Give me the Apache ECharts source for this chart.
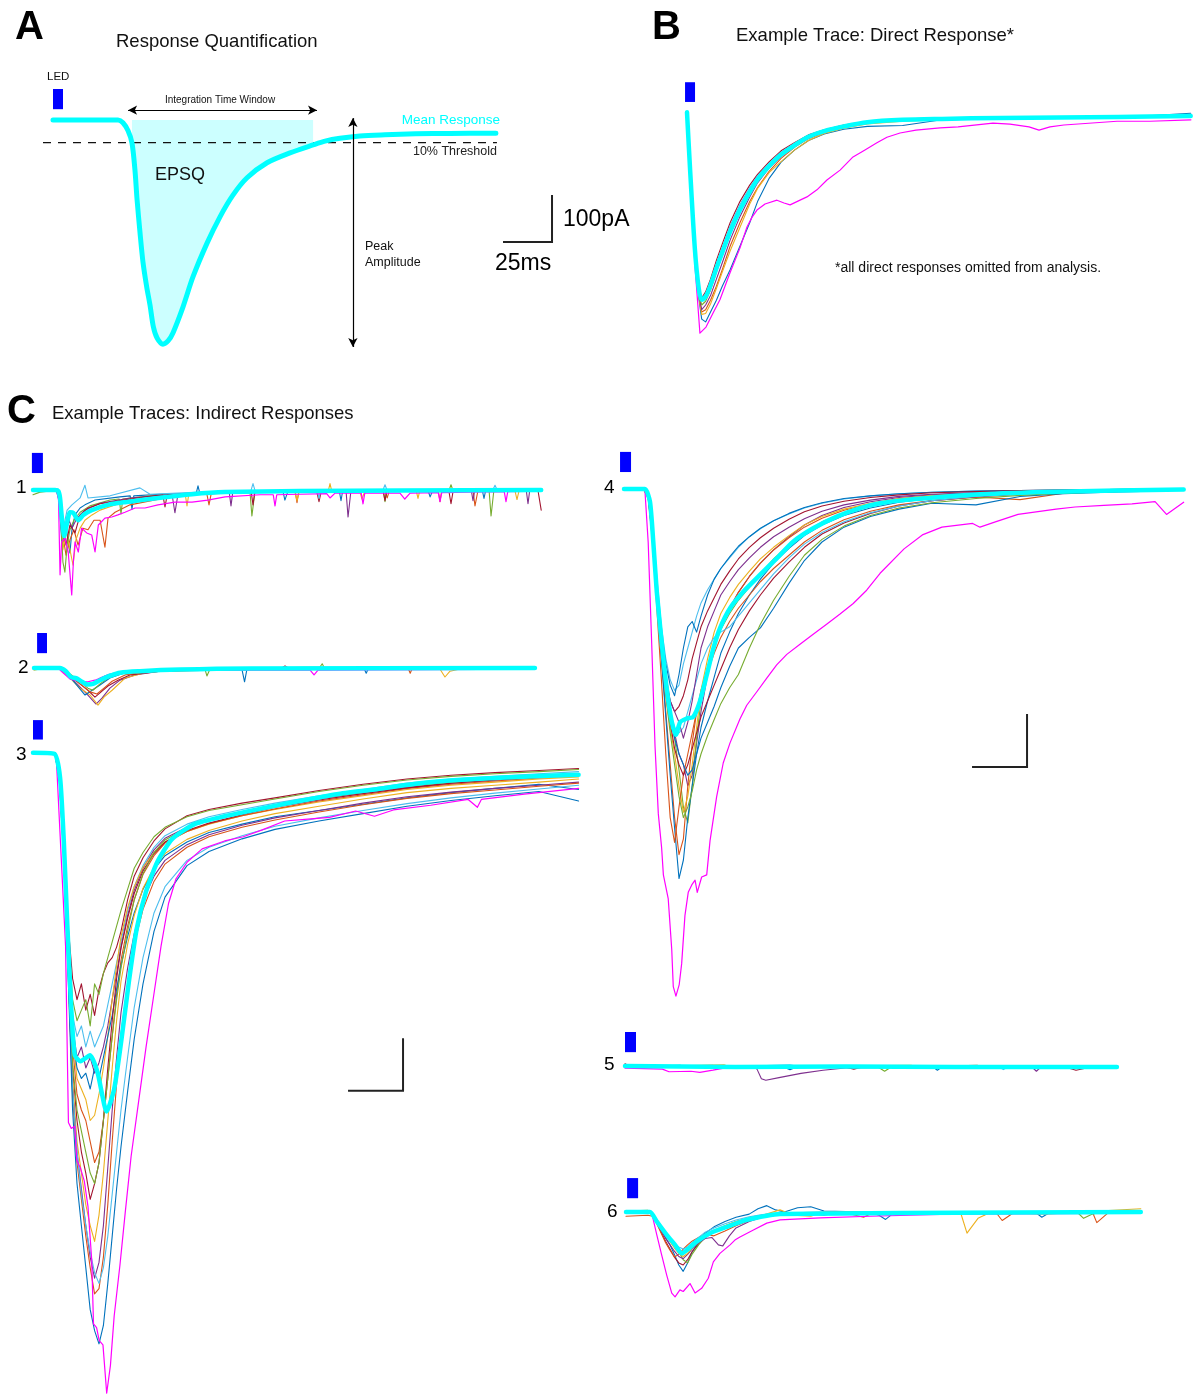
<!DOCTYPE html>
<html><head><meta charset="utf-8">
<script src="https://cdn.jsdelivr.net/npm/echarts/dist/echarts.min.js"></script>
<style>html,body{margin:0;padding:0;background:#fff}#c{width:1193px;height:1399px}</style>
</head><body><div id="c"></div>
<script>
// ===================== DATA (time in ms, current in pA) =====================
const C_BLUE='#0072BD',C_ORANGE='#D95319',C_YELLOW='#EDB120',C_PURPLE='#7E2F8E',C_GREEN='#77AC30',C_LBLUE='#4DBEEE',C_RED='#A2142F',C_MAG='#FF00FF',C_CYAN='#00FFFF';

// ---- Panel A: schematic mean response ----
const aTime = [0,33.2,35.7,38.3,40.3,41.8,42.9,44.4,45.9,47.8,49.5,51.2,53.1,56.1,58.7,61.2,66.3,71.4,78.6,85.2,91.8,99,109.2,120.9,132.7,138.8,146.4,156.6,169.4,185,202.6,226];
const aMean = [0,0,-6,-23,-49,-106,-170,-240,-302,-355,-394,-440,-464,-477,-470,-453,-398,-334,-262,-206,-160,-123,-91,-70,-53,-45,-39,-34,-31.5,-29.5,-28.5,-28];
const aThreshold = -48;            // 10% of peak
const aThresholdSpan = [-5.1, 226.5];
const aWindow = [40, 133];         // integration window (ms)
const aWindowArrow = [38.3, 134.7];
const aWindowArrowLevel = 21;
const aPeakArrowT = 153;
const aPeakArrowRange = [4, -483];

// ---- Panel B: direct response ----
const bTime = [0,1.5,4,6,7.5,9.5,12,15,18,22,27,32,36,42,48,55,62,70,80,92,110,130,160,190,220,257];
const bMean = [10,-106,-280,-365,-389,-382,-358,-322,-288,-244,-198,-160,-133,-104,-80,-60,-42,-30,-20,-11,-6,-4,-2,-1,0,2];
const bRed   = [10,-100,-275,-360,-385,-372,-345,-305,-270,-225,-180,-145,-122,-95,-72,-54,-38,-27,-17,-9,-4,-2,-1,0,1,2];
const bBlue  = [10,-110,-290,-385,-430,-436,-415,-390,-360,-325,-275,-225,-180,-130,-96,-70,-50,-36,-26,-20,-18,-6,-4,-3,-1,8];
const bOrange= [10,-108,-285,-380,-415,-410,-390,-360,-325,-275,-225,-180,-150,-115,-88,-64,-46,-33,-22,-13,-7,-4,-2,-1,0,1];
const bYellow= [10,-108,-288,-382,-420,-418,-398,-365,-330,-285,-235,-185,-152,-118,-95,-70,-50,-35,-24,-15,-9,-6,-3,-1,0,1];
const bPurple= [10,-106,-284,-378,-410,-400,-380,-345,-310,-262,-212,-170,-140,-108,-84,-62,-44,-31,-21,-12,-6,-3,-2,-1,0,2];
const bGreen = [10,-104,-280,-372,-400,-392,-368,-330,-295,-250,-202,-163,-136,-105,-80,-59,-41,-29,-19,-10,-5,-2,0,1,1,2];
const bLBlue = [10,-102,-276,-362,-386,-378,-350,-312,-278,-232,-186,-150,-125,-98,-75,-56,-40,-28,-18,-10,-5,-2,-1,0,0,2];
const bMagenta = [[0,10.6],[1.5,-123],[4.1,-319],[6.6,-460],[9.7,-447],[13.3,-417],[16.8,-389],[21.9,-332],[27,-279],[30.6,-234],[33.2,-213],[35.7,-198],[39.8,-185],[45.9,-177],[49.5,-183],[52.6,-187],[56.6,-179],[61.2,-170],[66.3,-155],[71.4,-134],[78.1,-113],[84.7,-85],[90.8,-70],[96.9,-55],[102,-43],[108.7,-34],[116.8,-28],[129.1,-23],[138.3,-21],[156.1,-13],[164.8,-15],[174.5,-21],[179.6,-28],[185.2,-21],[192.3,-17],[219.4,-9],[236.2,-9],[257.1,-6]];

// ---- Panel C1 ----
const c1Mean = [[0,0],[10,0],[11.5,-2],[12.3,-15],[13,-47],[14.2,-87],[15.3,-66],[16.8,-42],[18.3,-43],[20.6,-57],[22.9,-47],[26.7,-38],[34,-28],[41.8,-23],[56.8,-15],[72.3,-8],[87.3,-4],[121.4,-2],[166.8,-1],[231,0]];
const c1Blue = [[0,2],[10.5,0],[11.8,-19],[13.2,-104],[14.1,-85],[15,-66],[15.9,-94],[16.8,-119],[17.7,-75],[19.1,-47],[21.4,-34],[23.6,-28],[28.2,-19],[39.5,-13],[44.2,-11],[45,-36],[45.8,-11],[57.7,-8],[74.2,-6],[75,8],[75.8,-6],[85,-4],[113.6,-2],[114.5,-19],[115.9,-2],[139.2,-1],[140,-20],[140.8,-1],[179.5,0],[180.5,-13],[181.8,0],[204.2,0],[205,-16],[205.8,0],[231,0]];
const c1Orange = [[0,0],[10.9,0],[12.3,-28],[13.2,-75],[15,-123],[16.8,-94],[18.6,-75],[20.5,-104],[22.7,-72],[25,-75],[27.7,-57],[30.5,-57],[32.7,-108],[34.1,-53],[37.3,-42],[44.1,-28],[62.3,-13],[79,-7],[80,-28],[81,-7],[89.5,-6],[119.2,-3],[120,-24],[120.8,-3],[160,-1],[161,-15],[162,-1],[184.2,0],[185,-22],[185.8,0],[200,0],[200.9,-30],[202.3,0],[231,0]];
const c1Yellow = [[0,-2],[11.4,-2],[12.7,-47],[13.6,-113],[15,-75],[16.4,-104],[18.2,-142],[19.5,-94],[21.4,-72],[23.6,-57],[26.8,-47],[30.5,-38],[39.5,-25],[57.7,-13],[69.2,-8],[70,-30],[70.8,-8],[98.6,-4],[119,-3],[120,-20],[121,-3],[134.2,-2],[135,12],[135.8,-2],[148.6,-2],[149.5,-17],[150.9,-2],[174.2,-1],[175,-16],[175.8,-1],[219,0],[220,-18],[221,0],[231,0]];
const c1Green = [[0,-9],[3.2,-4],[11.4,0],[12.7,-57],[13.6,-136],[14.5,-155],[15.5,-104],[16.8,-75],[18.6,-57],[21.4,-42],[25.9,-30],[35,-19],[39.2,-17],[40,-45],[40.8,-17],[53.2,-11],[75.9,-6],[98.6,-2],[99.5,-49],[100.9,-2],[159.2,-1],[160,-22],[160.8,-1],[189.2,0],[190,10],[190.8,0],[207.3,0],[208.2,-49],[209.5,0],[231,2]];
const c1Purple = [[0,0],[11.4,0],[12.7,-38],[14.5,-85],[16.4,-57],[17.7,-72],[20,-53],[23.6,-38],[30.5,-25],[44.1,-15],[63.2,-8],[64.5,-43],[65.9,-8],[89.2,-4],[90,-30],[90.8,-4],[142.3,-2],[143.2,-51],[144.5,-2],[199.2,0],[200,-20],[200.8,0],[224.2,0],[225,-26],[225.8,0],[231,0]];
const c1Red = [[0,0],[11.4,0],[13.2,-57],[15,-104],[16.8,-66],[19.1,-81],[21.4,-47],[25,-34],[30.5,-26],[44.1,-17],[59,-9],[60,-32],[61,-9],[66.8,-9],[99.2,-4],[100,-28],[100.8,-4],[103.2,-4],[129,-3],[130,-22],[131,-3],[159.2,-2],[160,-20],[160.8,-2],[189,-1],[190,-26],[191,-1],[229.5,0],[231,-38]];
const c1LBlue = [[0,2],[11.4,2],[12.7,-28],[14.1,-66],[15.5,-38],[17.7,-28],[21.4,-15],[23.6,9],[25,-15],[35,-11],[48.6,4],[53.2,-8],[75.9,-4],[99,-2],[100,12],[101,-2],[129.2,-1],[130,-16],[130.8,-1],[159,-1],[160,10],[161,-1],[209,0],[210,9],[211,0],[231,0]];
const c1Magenta = [[0,-2],[7.7,0],[10.9,-2],[11.6,-19],[12.3,-160],[13,-98],[14.5,-91],[16,-117],[17.6,-198],[18.4,-132],[19.1,-98],[20.6,-117],[22.1,-72],[24.4,-81],[26.7,-85],[28.2,-117],[29.7,-66],[32.7,-53],[35.8,-51],[38.6,-47],[41.8,-42],[46.4,-34],[50.9,-34],[56.8,-28],[64.5,-23],[72.3,-23],[79.5,-19],[87.3,-13],[103.2,-9],[109.2,-9],[110,-30],[110.8,-9],[121.4,-8],[133.5,-7],[135,-15],[137.3,-6],[149.2,-6],[150,-26],[150.8,-6],[166.8,-6],[169,-17],[171.4,-6],[184.2,-5],[185,-22],[185.8,-5],[198.6,-4],[214.2,-3],[215,-22],[215.8,-3],[231,-2]];

// ---- Panel C2 ----
const c2Mean = [[0,0],[11.8,0],[14.5,-6],[16.8,-17],[19.1,-19],[21.8,-26],[24.5,-31],[26.8,-30],[30,-23],[34.5,-15],[39.1,-9],[48.2,-6],[66.4,-3],[98.2,-1],[227.7,0]];
const c2Purple = [[0,0],[11.8,-2],[15.5,-13],[20,-32],[24.5,-51],[28.2,-68],[30.9,-57],[34.5,-38],[39.1,-23],[45.9,-13],[57.3,-6],[84.5,-2],[227.7,0]];
const c2Yellow = [[0,-4],[2.7,-2],[11.8,-2],[16.4,-19],[20.9,-38],[25.5,-51],[29.1,-70],[31.8,-55],[35.5,-42],[41.4,-19],[50.5,-9],[57.3,-6],[75.5,-4],[184.5,-2],[186.8,-17],[189.1,-6],[193.6,-2],[227.7,0]];
const c2Blue = [[0,0],[11.8,0],[14.5,-8],[18.6,-28],[23.2,-51],[26.4,-42],[30,-32],[34.5,-19],[41.4,-9],[57.3,-4],[94.5,-2],[95.7,-26],[96.8,-2],[150,-1],[151,-10],[152,-1],[227.7,0]];
const c2Red = [[0,0],[12.7,0],[16.4,-15],[20.9,-30],[24.5,-42],[27.7,-55],[30,-47],[33.6,-34],[38.2,-23],[43.6,-13],[57.3,-6],[111.8,-2],[114.1,4],[116.4,-2],[227.7,0]];
const c2Green = [[0,0],[12.7,0],[16.4,-11],[20.9,-26],[24.5,-38],[26.8,-42],[30,-30],[33.6,-19],[39.1,-11],[52.7,-4],[77.7,-2],[78.6,-15],[80,-2],[130,2],[131,8],[132,0],[227.7,0]];
const c2Orange = [[0,-2],[12.7,0],[16.4,-13],[20.9,-30],[25.5,-45],[28.6,-49],[31.8,-38],[35.5,-25],[41.4,-13],[52.7,-6],[75.5,-2],[170,0],[171,-10],[172,0],[227.7,0]];
const c2LBlue = [[0,0],[11.8,0],[15.5,-11],[20,-23],[23.6,-34],[26.4,-30],[30,-19],[34.5,-11],[43.6,-6],[66.4,-2],[203.2,2],[207.7,-2],[227.7,0]];
const c2Magenta = [[0,0],[10.9,0],[13.2,-9],[16.4,-21],[20.9,-25],[24.5,-26],[27.7,-23],[32.3,-15],[39.1,-8],[57.3,-4],[125.5,-4],[127.3,-13],[129.1,-4],[227.7,-2]];

// ---- Panel C3 ----
const c3Time = [0,10,12,14,16,18,20,22,24,26,28,30,32,34,36,38,40,43,46,50,55,60,70,80,95,110,130,150,170,190,210,230,248];
const c3Traces = [
  [0,0,-30,-150,-330,-430,-470,-440,-490,-460,-500,-450,-420,-400,-390,-370,-340,-280,-235,-200,-168,-145,-120,-108,-96,-86,-72,-60,-50,-43,-38,-34,-30],
  [0,-2,-35,-160,-340,-470,-510,-490,-470,-520,-440,-460,-420,-390,-360,-330,-300,-260,-220,-190,-160,-142,-122,-110,-99,-88,-74,-62,-52,-45,-40,-36,-32],
  [0,0,-40,-170,-360,-500,-540,-520,-560,-530,-560,-540,-520,-480,-440,-400,-360,-300,-255,-215,-180,-158,-136,-122,-108,-96,-82,-70,-58,-50,-45,-40,-36],
  [0,-2,-45,-175,-370,-520,-580,-560,-600,-580,-610,-590,-560,-520,-470,-420,-370,-310,-262,-220,-185,-163,-142,-128,-114,-102,-88,-76,-66,-58,-52,-46,-42],
  [0,0,-40,-165,-355,-540,-620,-640,-660,-700,-690,-650,-600,-540,-470,-405,-350,-295,-255,-218,-190,-170,-150,-136,-120,-108,-94,-82,-70,-62,-56,-50,-46],
  [0,-2,-45,-170,-360,-560,-650,-680,-700,-740,-780,-760,-700,-620,-540,-460,-395,-330,-280,-232,-196,-172,-150,-135,-120,-107,-92,-80,-68,-60,-54,-48,-44],
  [0,-2,-40,-170,-370,-540,-600,-620,-610,-640,-600,-620,-580,-540,-500,-450,-405,-350,-305,-260,-222,-196,-170,-152,-136,-122,-110,-98,-86,-76,-68,-60,-70],
  [0,0,-45,-180,-390,-600,-700,-760,-800,-850,-820,-780,-700,-600,-510,-430,-372,-315,-268,-225,-192,-170,-148,-134,-118,-104,-90,-78,-67,-58,-52,-46,-40],
  [0,-2,-50,-190,-400,-620,-740,-800,-860,-900,-930,-880,-800,-700,-600,-510,-435,-365,-310,-258,-218,-192,-165,-148,-130,-116,-102,-88,-76,-68,-62,-56,-50],
  [0,0,-50,-190,-410,-640,-760,-830,-900,-960,-1000,-970,-900,-790,-680,-580,-495,-410,-345,-282,-235,-205,-175,-156,-138,-124,-110,-96,-84,-75,-68,-62,-56],
  [0,-2,-55,-200,-420,-650,-780,-850,-920,-980,-1030,-1020,-960,-860,-740,-630,-535,-440,-365,-298,-245,-212,-180,-160,-142,-128,-113,-99,-87,-78,-71,-64,-58],
  [0,0,-50,-190,-410,-640,-760,-840,-900,-950,-990,-1010,-980,-920,-840,-760,-680,-580,-485,-390,-305,-255,-205,-180,-158,-140,-124,-110,-97,-86,-77,-69,-62],
  [0,-2,-55,-200,-430,-680,-820,-900,-980,-1060,-1100,-1125,-1090,-1010,-920,-830,-750,-645,-545,-440,-340,-275,-215,-188,-164,-146,-130,-116,-102,-91,-82,-74,-92],
  [0,0,-45,-180,-390,-590,-680,-720,-760,-800,-820,-780,-700,-620,-540,-470,-410,-340,-280,-230,-190,-166,-143,-128,-113,-100,-87,-75,-64,-56,-50,-45,-40]
];
const c3Colors = [C_RED,C_GREEN,C_LBLUE,C_PURPLE,C_YELLOW,C_ORANGE,C_BLUE,C_RED,C_YELLOW,C_PURPLE,C_ORANGE,C_LBLUE,C_BLUE,C_GREEN];
const c3Mean = [[0,0],[9.7,-2],[12.3,-47],[14,-168],[15.6,-328],[17.4,-487],[19,-576],[21.6,-587],[25.9,-576],[29.3,-608],[33.5,-683],[36.9,-640],[40.3,-543],[43.7,-432],[47.1,-336],[51.4,-264],[56.5,-208],[63.3,-164],[73.5,-136],[87.1,-121],[104.2,-106],[121.2,-92],[138.2,-79],[155.2,-70],[172.3,-60],[189.3,-53],[214.8,-47],[248,-42]];
const c3Magenta = [[0,0],[10.5,-2],[14.8,-368],[16.1,-704],[17.4,-715],[19,-711],[19.9,-776],[21.6,-791],[23.3,-815],[25,-864],[26.7,-966],[27.5,-1087],[28.9,-1094],[30.1,-1119],[31.8,-1127],[33.5,-1219],[35.2,-1166],[36.9,-1072],[39.5,-976],[42,-872],[44.6,-768],[48,-664],[51.4,-560],[54.8,-464],[58.2,-368],[61.6,-287],[65,-240],[70.1,-208],[76.9,-183],[87.1,-168],[95.6,-160],[104.2,-147],[114.4,-130],[126.3,-126],[134.8,-123],[146.7,-111],[155.2,-121],[163.8,-109],[180.8,-100],[197.8,-89],[202,-104],[203.8,-89],[223.3,-79],[248,-68]];

// ---- Panel C4 ----
const c4Time = [0,9,11,13,15,17,19,21,23,25,27,29,31,33,35,38,41,44,48,52,57,62,68,75,82,90,100,112,125,140,160,180,200,220,240,254];
const c4Traces = [
  [0,0,-10,-70,-170,-260,-320,-360,-380,-370,-330,-300,-270,-240,-215,-190,-170,-150,-130,-110,-90,-75,-60,-47,-36,-27,-19,-13,-9,-6,-4,-3,-2,-1,0,0],
  [0,0,-12,-80,-180,-270,-330,-370,-390,-350,-300,-260,-250,-270,-240,-200,-170,-150,-128,-108,-90,-74,-60,-46,-35,-26,-18,-13,-9,-6,-4,-3,-2,-1,0,0],
  [0,0,-15,-90,-200,-290,-360,-400,-420,-410,-390,-360,-320,-290,-260,-230,-205,-180,-155,-132,-110,-92,-74,-57,-43,-32,-23,-16,-11,-7,-5,-3,-2,-1,0,0],
  [0,0,-12,-85,-195,-290,-370,-420,-460,-500,-520,-560,-540,-480,-420,-350,-300,-260,-225,-195,-165,-140,-115,-90,-68,-50,-35,-24,-16,-11,-7,-5,-3,-2,-1,0],
  [0,-2,-15,-95,-210,-320,-420,-520,-620,-690,-660,-560,-480,-420,-380,-340,-300,-260,-225,-195,-165,-140,-115,-92,-72,-55,-40,-28,-19,-13,-9,-6,-4,-3,-2,-1],
  [0,0,-10,-80,-190,-280,-360,-420,-470,-530,-600,-630,-560,-470,-400,-340,-300,-265,-235,-210,-185,-160,-132,-105,-82,-62,-45,-32,-22,-15,-10,-7,-5,-3,-2,-1],
  [0,0,-12,-88,-200,-300,-390,-450,-500,-560,-610,-580,-520,-450,-380,-320,-270,-235,-205,-180,-155,-132,-110,-88,-68,-52,-38,-27,-18,-12,-8,-5,-3,-2,-1,0],
  [0,0,-15,-95,-210,-320,-430,-540,-640,-735,-700,-620,-560,-500,-450,-400,-355,-310,-270,-235,-200,-170,-140,-112,-88,-68,-50,-36,-25,-18,-12,-8,-5,-3,-2,-1],
  [0,-2,-18,-100,-230,-360,-500,-620,-667,-600,-540,-500,-460,-420,-385,-345,-310,-280,-250,-225,-200,-175,-150,-125,-100,-78,-58,-42,-30,-22,-15,-20,-8,-5,-3,-2],
  [0,0,-12,-85,-195,-295,-380,-440,-490,-520,-540,-520,-490,-460,-430,-400,-370,-340,-300,-265,-230,-200,-168,-138,-110,-85,-64,-46,-32,-22,-15,-10,-6,-4,-2,-1],
  [0,0,-10,-80,-185,-280,-360,-420,-450,-460,-450,-420,-390,-360,-330,-300,-280,-270,-260,-240,-215,-190,-160,-130,-104,-82,-62,-45,-32,-22,-14,-9,-6,-4,-2,-1],
  [0,0,-12,-85,-195,-290,-370,-430,-470,-500,-520,-540,-530,-500,-470,-440,-410,-375,-335,-300,-280,-262,-225,-178,-135,-100,-72,-52,-38,-27,-30,-14,-9,-6,-4,-2],
  [0,0,-12,-85,-200,-300,-390,-460,-520,-580,-620,-600,-570,-530,-500,-465,-435,-405,-375,-350,-300,-255,-210,-165,-125,-95,-70,-50,-36,-26,-18,-12,-8,-5,-3,-2],
  [0,0,-12,-80,-190,-280,-350,-400,-420,-440,-470,-440,-400,-350,-300,-260,-230,-200,-175,-152,-130,-110,-90,-72,-56,-42,-30,-21,-14,-10,-7,-5,-3,-2,-1,0]
];
const c4Colors = [C_LBLUE,C_BLUE,C_RED,C_PURPLE,C_ORANGE,C_GREEN,C_YELLOW,C_BLUE,C_ORANGE,C_RED,C_LBLUE,C_BLUE,C_GREEN,C_PURPLE];
const c4Mean = [[0,0],[9.5,0],[11.8,-24],[13.3,-99],[14.9,-194],[17.1,-288],[19.4,-376],[21.7,-439],[23.6,-464],[25.5,-440],[28.5,-433],[31.5,-430],[34.5,-401],[37.6,-351],[40.6,-301],[43.6,-263],[48.2,-225],[54.2,-194],[61.8,-162],[69.4,-131],[77,-99],[86,-74],[96.7,-52],[107.3,-36],[116.4,-27],[127.3,-21],[161.8,-10],[196.4,-5],[254.4,-1]];
const c4Magenta = [[0,0],[9.5,-2],[11,-101],[12.6,-293],[14.1,-485],[15.6,-613],[17.1,-677],[17.9,-728],[20.1,-773],[21.7,-869],[22.4,-939],[23.6,-957],[25.1,-935],[26.2,-896],[27.7,-805],[29.2,-761],[30.8,-747],[32.3,-738],[33.3,-761],[35.3,-732],[37.6,-728],[39.1,-664],[42.1,-581],[45.1,-517],[48.2,-479],[52.7,-434],[55.8,-408],[60.3,-383],[64.9,-357],[69.4,-332],[74,-312],[80,-293],[86,-274],[92.1,-255],[98.2,-236],[104.2,-216],[110.3,-191],[116.4,-159],[127.3,-113],[135.9,-86],[144.5,-72],[158.5,-65],[161.8,-72],[168.8,-62],[179.1,-48],[196.4,-38],[205,-34],[218.1,-31],[230.9,-28],[241.4,-24],[246.6,-48],[254.4,-25]];

// ---- Panel C5 ----
const c5Mean = [[0,2],[50,0],[100,1],[150,0],[223.6,0]];
const c5Purple = [[0,0],[58,0],[60,-4],[62,-22],[64,-25],[70,-20],[80,-12],[90,-6],[100,-2],[140,0],[185,0],[187,-8],[189,0],[223.6,0]];
const c5Magenta = [[0,-2],[17,-4],[20,-9],[30,-8],[34,-10],[40,-6],[45,-2],[60,-2],[100,0],[223.6,-2]];
const c5Orange = [[0,4],[20,0],[120,2],[130,0],[160,3],[165,0],[223.6,0]];
const c5Green = [[0,0],[60,2],[115,0],[118,-8],[121,0],[150,2],[223.6,0]];
const c5Red = [[0,6],[3,0],[100,0],[104,-4],[108,0],[200,0],[205,-6],[212,0],[223.6,0]];
const c5Blue = [[0,0],[25,3],[30,0],[72,0],[75,-5],[78,0],[140,0],[142,-6],[144,0],[223.6,1]];
const c5LBlue = [[0,0],[40,3],[43,0],[75,4],[80,0],[170,0],[172,-5],[174,0],[223.6,0]];
const c5Yellow = [[0,0],[45,4],[48,0],[130,3],[134,0],[223.6,0]];

// ---- Panel C6 ----
const c6Mean = [[0,0],[10.9,0],[14,-18],[18.5,-43],[22.3,-62],[25.3,-78],[27.6,-72],[32.1,-56],[38.2,-40],[45.8,-28],[54.9,-15],[64,-7],[70,-4],[124.5,-2],[234,0]];
const c6Blue = [[0,0],[10,0],[12,-4],[14,-16],[16,-32],[18,-48],[20,-62],[22,-80],[24,-100],[26,-112],[28,-96],[30,-76],[33,-56],[36,-40],[40,-28],[45,-18],[50,-10],[56,-4],[60,6],[64,12],[68,4],[72,0],[78,8],[84,10],[90,2],[110,0],[115,-6],[118,-14],[121,-4],[125,0],[186,0],[189,-10],[193,0],[234,0]];
const c6Red = [[0,0],[10,0],[12,-5],[14,-20],[16,-38],[18,-55],[20,-70],[22,-85],[24,-96],[26,-100],[28,-90],[30,-75],[33,-60],[36,-48],[40,-38],[45,-30],[50,-22],[56,-14],[62,-8],[70,-4],[80,-2],[100,0],[160,0],[163,-5],[166,0],[234,2]];
const c6Green = [[0,2],[10,3],[12,-3],[14,-14],[16,-26],[18,-38],[20,-50],[22,-62],[24,-75],[26,-90],[28,-96],[30,-80],[33,-62],[36,-48],[40,-36],[45,-26],[50,-18],[56,-11],[62,-6],[70,-3],[80,-1],[100,0],[205,0],[208,-12],[212,-4],[216,0],[234,2]];
const c6Orange = [[0,-8],[10,-6],[12,-8],[14,-22],[16,-40],[18,-58],[20,-72],[22,-85],[24,-80],[26,-70],[28,-62],[30,-55],[33,-48],[36,-42],[40,-45],[45,-36],[50,-26],[56,-16],[62,-10],[70,-5],[80,-3],[100,-2],[108,-10],[112,-2],[168,0],[171,-16],[176,-2],[212,0],[214,-20],[219,-2],[234,0]];
const c6Purple = [[0,0],[10,0],[12,-5],[14,-20],[16,-35],[18,-50],[20,-62],[22,-74],[24,-84],[26,-88],[28,-80],[30,-70],[33,-58],[36,-50],[39,-48],[42,-62],[44,-64],[47,-45],[50,-30],[56,-18],[62,-10],[70,-5],[80,-2],[90,-6],[95,-2],[150,0],[234,0]];
const c6Yellow = [[0,0],[10,0],[12,-4],[14,-16],[16,-30],[18,-44],[20,-56],[22,-68],[24,-78],[26,-84],[28,-78],[30,-68],[33,-56],[36,-44],[40,-34],[45,-26],[50,-18],[56,-12],[62,-6],[70,4],[76,-6],[84,-8],[90,0],[152,0],[155,-40],[160,-12],[166,0],[190,-4],[234,6]];
const c6LBlue = [[0,0],[10,0],[12,-5],[14,-18],[16,-30],[18,-42],[20,-52],[22,-60],[24,-66],[26,-70],[28,-66],[30,-58],[33,-48],[36,-38],[40,-30],[45,-22],[50,-15],[56,-9],[62,-5],[70,-2],[90,0],[234,0]];
const c6Magenta = [[0,0],[11.7,-2],[14,-43],[16.2,-81],[18.5,-119],[20.8,-153],[22.3,-160],[24.5,-147],[26,-150],[29.1,-135],[31.4,-153],[34.4,-144],[37.4,-125],[39.7,-94],[42.7,-78],[47.3,-62],[49.5,-53],[51.8,-47],[57.9,-34],[64,-21],[70,-15],[88.2,-11],[110.9,-8],[147.3,-4],[234,-2]];

// LED pulse times (ms) per panel
const ledTimes = {A:[0,5.1],B:[-1,4.1],C1:[-0.5,4.5],C2:[1.4,5.9],C3:[0,4.5],C4:[-1.8,3.2],C5:[0,5],C6:[0.5,5.5]};
// scale bar
const scaleMs = 25, scalePa = 100;

// ===================== LAYOUT =====================
const P = {
  A: {x0:53, base:120, sx:1.96, sy:0.47, xmin:-10, xmax:270, ymin:-500, ymax:80},
  B: {x0:687, base:117, sx:1.96, sy:0.47, xmin:-5, xmax:258, ymin:-480, ymax:80},
  C1:{x0:33, base:490, sx:2.2, sy:0.53, xmin:-5, xmax:235, ymin:-220, ymax:75},
  C2:{x0:34, base:668, sx:2.2, sy:0.53, xmin:-5, xmax:232, ymin:-90, ymax:72},
  C3:{x0:33, base:753, sx:2.2, sy:0.53, xmin:-5, xmax:250, ymin:-1230, ymax:70},
  C4:{x0:624, base:489, sx:2.2, sy:0.53, xmin:-5, xmax:256, ymin:-970, ymax:75},
  C5:{x0:625, base:1067, sx:2.2, sy:0.53, xmin:-5, xmax:226, ymin:-40, ymax:72},
  C6:{x0:626, base:1212, sx:2.2, sy:0.53, xmin:-5, xmax:236, ymin:-180, ymax:70}
};
const ledLevels = {A:[23,66],B:[32,74],C1:[32,70],C2:[28,66],C3:[25,62],C4:[32,70],C5:[28,66],C6:[26,64]};
const scaleCorner = {A:[254.6,-259.6], C3:[168.2,-643.5], C4:[183.2,-524.6]};
const FONT = '"Liberation Sans", Arial, Helvetica, sans-serif';

// ===================== BUILD =====================
const order = ['A','B','C1','C2','C3','C4','C5','C6'];
const option = {animation:false, backgroundColor:'#ffffff', grid:[], xAxis:[], yAxis:[], series:[], graphic:{elements:[]}};
order.forEach((k,i)=>{
  const L = P[k];
  option.grid.push({left:L.x0 + L.xmin*L.sx, top:L.base - L.ymax*L.sy, width:(L.xmax-L.xmin)*L.sx, height:(L.ymax-L.ymin)*L.sy, containLabel:false, show:false});
  option.xAxis.push({type:'value', gridIndex:i, min:L.xmin, max:L.xmax, show:false});
  option.yAxis.push({type:'value', gridIndex:i, min:L.ymin, max:L.ymax, show:false});
});
const gi = k => order.indexOf(k);
const zip = (T,V) => T.map((t,i)=>[t,V[i]]);
function ln(k, data, color, width, extra){
  return Object.assign({type:'line', xAxisIndex:gi(k), yAxisIndex:gi(k), data, symbol:'none', showSymbol:false, clip:false, silent:true, animation:false,
    lineStyle:{color, width, cap:'round', join:'round'}, itemStyle:{color}, emphasis:{disabled:true}}, extra||{});
}
function led(k){
  return {silent:true, animation:false, label:{show:false}, itemStyle:{color:'#0000FF', opacity:1},
    data:[[{coord:[ledTimes[k][0], ledLevels[k][0]]},{coord:[ledTimes[k][1], ledLevels[k][1]]}]]};
}
function scaleBar(k){
  const c = scaleCorner[k];
  option.series.push(ln(k, [[c[0]-scaleMs, c[1]],[c[0], c[1]],[c[0], c[1]+scalePa]], '#222222', 2, {lineStyle:{color:'#222222', width:2, cap:'butt', join:'miter'}}));
}
function panel(k, traces, magenta, mean, smooth){
  traces.forEach(tr => option.series.push(ln(k, tr[0], tr[1], 1.1)));
  option.series.push(ln(k, magenta, C_MAG, 1.2));
  option.series.push(ln(k, mean, C_CYAN, 4.5, {smooth: smooth||0, markArea: led(k)}));
}

// Panel A
const aCurve = zip(aTime, aMean);
option.series.push(ln('A', aCurve.filter(p => p[0] >= aWindow[0] && p[0] <= aWindow[1]), C_CYAN, 0,
  {smooth:0.3, lineStyle:{width:0, opacity:0}, areaStyle:{color:'#CCFFFF', opacity:1}}));
option.series.push(ln('A', [[aThresholdSpan[0], aThreshold],[aThresholdSpan[1], aThreshold]], '#000', 1.2,
  {lineStyle:{color:'#111', width:1.2, type:[8,7], cap:'butt'},
   markLine:{silent:true, animation:false, symbol:['arrow','arrow'], symbolSize:[7,9], label:{show:false}, emphasis:{disabled:true},
     lineStyle:{color:'#000', width:1.2, type:'solid'},
     data:[[{coord:[aWindowArrow[0], aWindowArrowLevel]},{coord:[aWindowArrow[1], aWindowArrowLevel]}],
           [{coord:[aPeakArrowT, aPeakArrowRange[0]]},{coord:[aPeakArrowT, aPeakArrowRange[1]]}]]}}));
option.series.push(ln('A', aCurve, C_CYAN, 5, {smooth:0.3, markArea: led('A')}));
scaleBar('A');

// Panel B
panel('B', [[zip(bTime,bRed),C_RED],[zip(bTime,bBlue),C_BLUE],[zip(bTime,bOrange),C_ORANGE],[zip(bTime,bYellow),C_YELLOW],
  [zip(bTime,bPurple),C_PURPLE],[zip(bTime,bGreen),C_GREEN],[zip(bTime,bLBlue),C_LBLUE]], bMagenta, zip(bTime,bMean), 0.3);

// Panel C1..C6
panel('C1', [[c1Blue,C_BLUE],[c1Orange,C_ORANGE],[c1Yellow,C_YELLOW],[c1Green,C_GREEN],[c1Purple,C_PURPLE],[c1Red,C_RED],[c1LBlue,C_LBLUE]], c1Magenta, c1Mean, 0.2);
panel('C2', [[c2Purple,C_PURPLE],[c2Yellow,C_YELLOW],[c2Blue,C_BLUE],[c2Red,C_RED],[c2Green,C_GREEN],[c2Orange,C_ORANGE],[c2LBlue,C_LBLUE]], c2Magenta, c2Mean, 0.3);
panel('C3', c3Traces.map((v,i)=>[zip(c3Time,v), c3Colors[i]]), c3Magenta, c3Mean, 0.2);
scaleBar('C3');
panel('C4', c4Traces.map((v,i)=>[zip(c4Time,v), c4Colors[i]]), c4Magenta, c4Mean, 0.2);
scaleBar('C4');
panel('C5', [[c5Orange,C_ORANGE],[c5Green,C_GREEN],[c5Red,C_RED],[c5Blue,C_BLUE],[c5LBlue,C_LBLUE],[c5Yellow,C_YELLOW],[c5Purple,C_PURPLE]], c5Magenta, c5Mean, 0);
panel('C6', [[c6Blue,C_BLUE],[c6Red,C_RED],[c6Green,C_GREEN],[c6Orange,C_ORANGE],[c6Purple,C_PURPLE],[c6Yellow,C_YELLOW],[c6LBlue,C_LBLUE]], c6Magenta, c6Mean, 0.2);

// Texts
const texts = [
  ['A',15,28,40,'bold','left','#000'],
  ['Response Quantification',116,42,18.5,'normal','left','#111'],
  ['LED',47,77,11.5,'normal','left','#111'],
  ['Integration Time Window',220,100,10,'normal','center','#111'],
  ['Mean Response',500,120,13.5,'normal','right',C_CYAN],
  ['10% Threshold',497,152,12.5,'normal','right','#222'],
  ['EPSQ',155,175,18,'normal','left','#111'],
  ['Peak',365,247,12.5,'normal','left','#111'],
  ['Amplitude',365,263,12.5,'normal','left','#111'],
  ['100pA',563,220,23,'normal','left','#000'],
  ['25ms',495,264,23,'normal','left','#000'],
  ['B',652,28,40,'bold','left','#000'],
  ['Example Trace: Direct Response*',736,36,18.5,'normal','left','#111'],
  ['*all direct responses omitted from analysis.',835,268,14,'normal','left','#111'],
  ['C',7,412,40,'bold','left','#000'],
  ['Example Traces: Indirect Responses',52,414,18.5,'normal','left','#111'],
  ['1',16,488,19,'normal','left','#000'],
  ['2',18,668,19,'normal','left','#000'],
  ['3',16,755,19,'normal','left','#000'],
  ['4',604,488,19,'normal','left','#000'],
  ['5',604,1065,19,'normal','left','#000'],
  ['6',607,1212,19,'normal','left','#000']
];
texts.forEach(t=>{
  option.graphic.elements.push({type:'text', x:t[1], y:t[2], silent:true, z:100,
    style:{text:t[0], font:t[4]+' '+t[3]+'px '+FONT, fill:t[6], textAlign:t[5], textVerticalAlign:'middle', align:t[5], verticalAlign:'middle'}});
});

const chart = echarts.init(document.getElementById('c'), null, {renderer:'canvas'});
chart.setOption(option);
</script></body></html>
